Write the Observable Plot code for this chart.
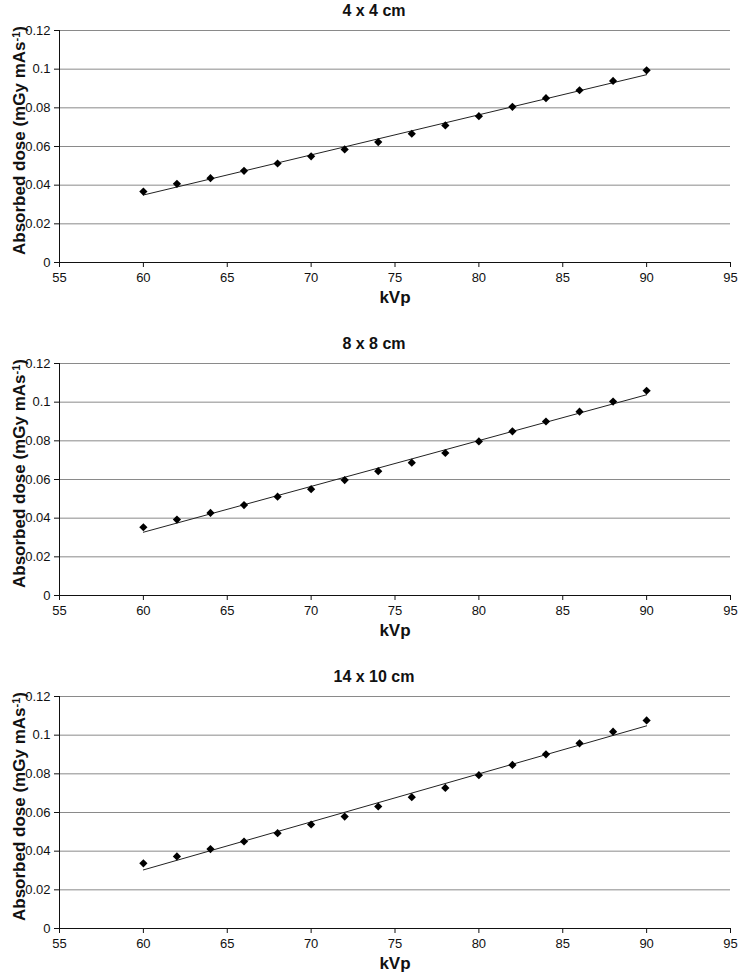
<!DOCTYPE html>
<html>
<head>
<meta charset="utf-8">
<script src="https://cdn.jsdelivr.net/npm/d3@7"></script>
<script src="https://cdn.jsdelivr.net/npm/@observablehq/plot@0.6"></script>
<style>
  html, body { margin: 0; padding: 0; background: #fff; }
  #chart svg { display: block; }
</style>
</head>
<body>
<div id="chart"></div>
<script>
const kvp = [60, 62, 64, 66, 68, 70, 72, 74, 76, 78, 80, 82, 84, 86, 88, 90];
const dose4x4 = [0.0367, 0.0407, 0.0436, 0.0474, 0.0512, 0.0549, 0.0585, 0.0623, 0.0666, 0.0709, 0.0757, 0.0805, 0.0850, 0.0891, 0.0939, 0.0994];
const dose8x8 = [0.0353, 0.0393, 0.0427, 0.0468, 0.0511, 0.0550, 0.0597, 0.0643, 0.0687, 0.0737, 0.0797, 0.0849, 0.0900, 0.0951, 0.1003, 0.1059];
const dose14x10 = [0.0337, 0.0373, 0.0411, 0.0450, 0.0493, 0.0538, 0.0579, 0.0631, 0.0679, 0.0727, 0.0793, 0.0846, 0.0901, 0.0958, 0.1018, 0.1076];
const titles = ["4 x 4 cm", "8 x 8 cm", "14 x 10 cm"];
const xTicks = [55, 60, 65, 70, 75, 80, 85, 90, 95];
const yTicks = [0, 0.02, 0.04, 0.06, 0.08, 0.1, 0.12];
const xLabel = "kVp";
const yLabel = "Absorbed dose (mGy mAs-1)";

const font = "'Liberation Sans', Arial, sans-serif";

function panel(title, dose) {
  const data = kvp.map((k, i) => ({kvp: k, dose: dose[i]}));
  const svg = Plot.plot({
    width: 740,
    height: 333,
    marginLeft: 59,
    marginRight: 10,
    marginTop: 30,
    marginBottom: 71,
    style: {fontFamily: font, background: "#fff", color: "#111", overflow: "visible"},
    x: {domain: [55, 95]},
    y: {domain: [0, 0.12]},
    marks: [
      Plot.ruleY(yTicks.slice(1), {stroke: "#8a8a8a", strokeWidth: 1}),
      Plot.axisY({ticks: yTicks, tickFormat: d => String(d), tickSize: 5, tickPadding: 4, fontSize: 13, label: null, stroke: "#111", fill: "#111"}),
      Plot.axisX({ticks: xTicks, tickSize: 5, tickPadding: 5, fontSize: 13, label: null, stroke: "#111", fill: "#111"}),
      Plot.ruleX([55], {stroke: "#111", strokeWidth: 1}),
      Plot.ruleY([0], {stroke: "#111", strokeWidth: 1}),
      Plot.linearRegressionY(data, {x: "kvp", y: "dose", ci: 0, stroke: "#222", strokeWidth: 1}),
      Plot.dot(data, {x: "kvp", y: "dose", symbol: "diamond2", r: 3.7, fill: "#000", stroke: "none"}),
      Plot.text([title], {frameAnchor: "top", lineAnchor: "middle", textAnchor: "middle", dx: -21, dy: -20, fontSize: 16, fontWeight: "bold", fill: "#111"}),
      Plot.text([xLabel], {frameAnchor: "bottom", lineAnchor: "middle", textAnchor: "middle", dy: 35, fontSize: 17, fontWeight: "bold", fill: "#111"}),
      Plot.text([yLabel], {frameAnchor: "left", lineAnchor: "middle", textAnchor: "middle", dx: -40, dy: -6, rotate: -90, fontSize: 17, fontWeight: "bold", fill: "#111"})
    ]
  });
  // superscript for the unit exponent
  d3.select(svg).selectAll("text").each(function () {
    if (this.textContent === yLabel) {
      this.textContent = "";
      const t = d3.select(this);
      t.append("tspan").text("Absorbed dose (mGy mAs");
      t.append("tspan").attr("dy", "-0.45em").attr("font-size", "0.65em").text("-1");
      t.append("tspan").attr("dy", "0.3em").text(")");
    }
  });
  return svg;
}

const chart = document.getElementById("chart");
chart.append(panel(titles[0], dose4x4));
chart.append(panel(titles[1], dose8x8));
chart.append(panel(titles[2], dose14x10));
</script>
</body>
</html>
